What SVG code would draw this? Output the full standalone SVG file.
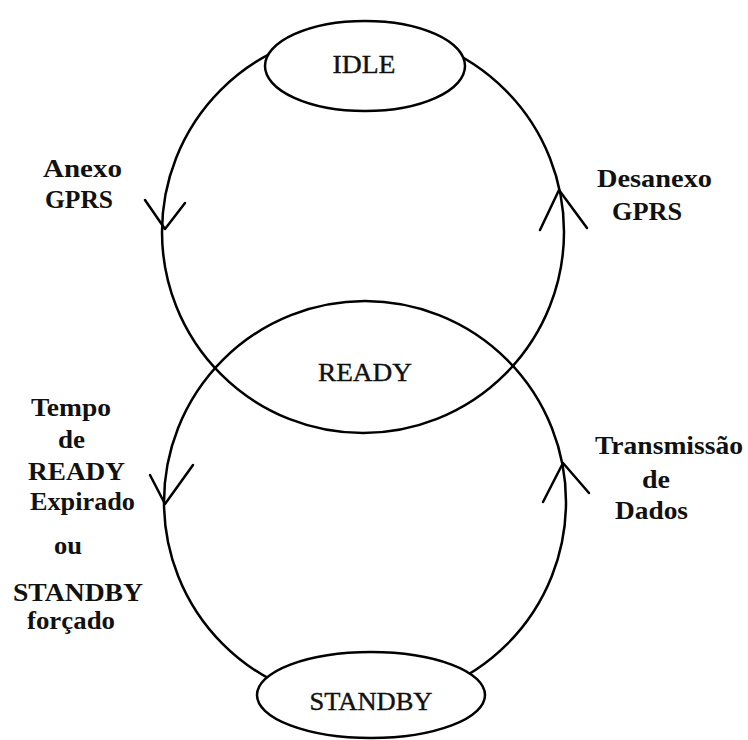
<svg xmlns="http://www.w3.org/2000/svg" width="748" height="740" viewBox="0 0 748 740">
<style>
.line{fill:none;stroke:#000;stroke-width:2.5;stroke-linecap:round;stroke-linejoin:round}
.node{fill:#fff;stroke:#000;stroke-width:2.5}
.name{font-family:"Liberation Serif","Times New Roman",serif;font-size:26px;fill:#111;stroke:#111;stroke-width:0.4;text-anchor:middle}
.lbl{font-family:"Liberation Serif","Times New Roman",serif;font-size:25px;font-weight:bold;fill:#111}
</style>
<rect width="748" height="740" fill="#fff"/>
<g id="connectors">
<circle class="line" cx="363" cy="232" r="201"/>
<circle class="line" cx="365" cy="502" r="201"/>
<polyline class="line" points="145,200 165,229 185,203"/>
<polyline class="line" points="540,230 559,190 587,228"/>
<polyline class="line" points="150,475 165,504 193,465"/>
<polyline class="line" points="543,502 563,463 589,493"/>
</g>
<g id="labels">
<text class="lbl" x="43" y="177" textLength="79" lengthAdjust="spacingAndGlyphs">Anexo</text>
<text class="lbl" x="45" y="208" textLength="68" lengthAdjust="spacingAndGlyphs">GPRS</text>
<text class="lbl" x="597" y="187" textLength="115" lengthAdjust="spacingAndGlyphs">Desanexo</text>
<text class="lbl" x="612" y="220" textLength="70" lengthAdjust="spacingAndGlyphs">GPRS</text>
<text class="lbl" x="31" y="416" textLength="80" lengthAdjust="spacingAndGlyphs">Tempo</text>
<text class="lbl" x="58" y="448" textLength="27" lengthAdjust="spacingAndGlyphs">de</text>
<text class="lbl" x="28" y="480" textLength="97" lengthAdjust="spacingAndGlyphs">READY</text>
<text class="lbl" x="30" y="510" textLength="105" lengthAdjust="spacingAndGlyphs">Expirado</text>
<text class="lbl" x="54" y="554" textLength="28" lengthAdjust="spacingAndGlyphs">ou</text>
<text class="lbl" x="13" y="601" font-size="23" textLength="130" lengthAdjust="spacingAndGlyphs">STANDBY</text>
<text class="lbl" x="27" y="629" font-size="23" textLength="88" lengthAdjust="spacingAndGlyphs">forçado</text>
<text class="lbl" x="595" y="454" textLength="148" lengthAdjust="spacingAndGlyphs">Transmissão</text>
<text class="lbl" x="642" y="488" textLength="28" lengthAdjust="spacingAndGlyphs">de</text>
<text class="lbl" x="615" y="519" textLength="73" lengthAdjust="spacingAndGlyphs">Dados</text>
</g>
<g id="node-idle">
<ellipse class="node" cx="365" cy="66" rx="100" ry="45"/>
<text class="name" x="364" y="73" textLength="63" lengthAdjust="spacingAndGlyphs">IDLE</text>
</g>
<g id="node-ready">
<text class="name" x="365" y="381" textLength="94" lengthAdjust="spacingAndGlyphs">READY</text>
</g>
<g id="node-standby">
<ellipse class="node" cx="371" cy="695" rx="114" ry="43"/>
<text class="name" x="371" y="710" textLength="123" lengthAdjust="spacingAndGlyphs">STANDBY</text>
</g>
</svg>
